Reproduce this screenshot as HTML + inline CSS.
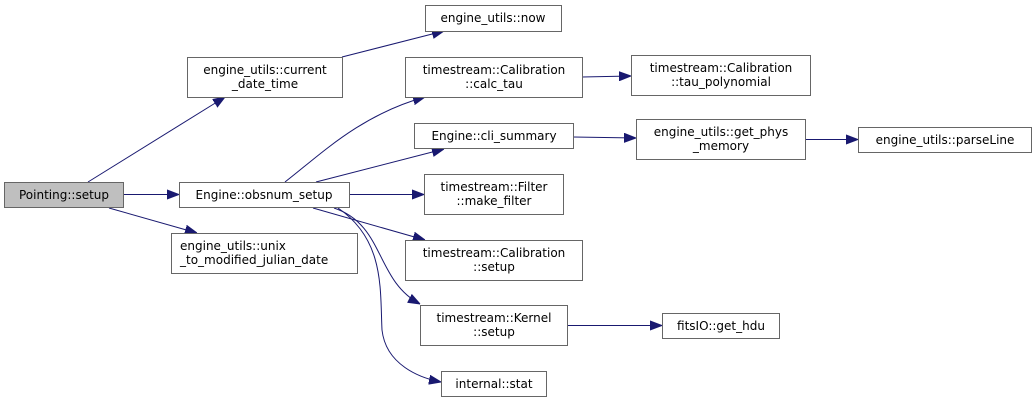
<!DOCTYPE html>
<html><head><meta charset="utf-8"><style>
html,body{margin:0;padding:0;background:#fff;}
svg{display:block;}
text{font-family:"DejaVu Sans","Liberation Sans",sans-serif;font-size:12px;fill:#000;text-anchor:middle;}
rect{fill:#fff;stroke:#666;stroke-width:1;}
path{fill:none;stroke:#191970;stroke-width:1;}
</style></head><body>
<svg width="1033" height="403" viewBox="0 0 1033 403" xmlns="http://www.w3.org/2000/svg">
<defs><marker id="a" markerWidth="12" markerHeight="10" refX="12" refY="5" orient="auto" markerUnits="userSpaceOnUse"><polygon points="0,0.5 12,5 0,9.5" fill="#191970" stroke="#191970"/></marker></defs>
<g marker-end="url(#a)">
<path d="M88,182 L225,97"/>
<path d="M124,194.5 L179,194.5"/>
<path d="M109,208 L197,233"/>
<path d="M342,57 L444,31"/>
<path d="M285,182 C320,155 360,115 425,97"/>
<path d="M316,182 L444,149"/>
<path d="M349,194.5 L424,194.5"/>
<path d="M313,208 L425,240"/>
<path d="M334,208 C385,225 375,280 420,304"/>
<path d="M338,208 C385,240 380,290 382,330 C386,365 420,378 441,382"/>
<path d="M582,77 L631,76"/>
<path d="M573,137 L636,138"/>
<path d="M805,139.5 L858,139.5"/>
<path d="M567,325.5 L662,325.5"/>
</g>
<rect x="4.5" y="182.5" width="119" height="25" style="fill:#bfbfbf"/><text x="64" y="199">Pointing::setup</text>
<rect x="187.5" y="57.5" width="155" height="40"/><text x="265" y="74">engine_utils::current</text><text x="265" y="88">_date_time</text>
<rect x="425.5" y="5.5" width="136" height="26"/><text x="493" y="22">engine_utils::now</text>
<rect x="171.5" y="233.5" width="186" height="40"/><text x="180" y="250" style="text-anchor:start">engine_utils::unix</text><text x="180" y="264" style="text-anchor:start">_to_modified_julian_date</text>
<rect x="179.5" y="182.5" width="170" height="25"/><text x="264" y="199">Engine::obsnum_setup</text>
<rect x="405.5" y="57.5" width="177" height="40"/><text x="494" y="74">timestream::Calibration</text><text x="494" y="88">::calc_tau</text>
<rect x="414.5" y="123.5" width="159" height="25"/><text x="494" y="140">Engine::cli_summary</text>
<rect x="424.5" y="174.5" width="139" height="40"/><text x="494" y="191">timestream::Filter</text><text x="494" y="205">::make_filter</text>
<rect x="405.5" y="240.5" width="177" height="40"/><text x="494" y="257">timestream::Calibration</text><text x="494" y="271">::setup</text>
<rect x="420.5" y="305.5" width="147" height="40"/><text x="494" y="322">timestream::Kernel</text><text x="494" y="336">::setup</text>
<rect x="441.5" y="371.5" width="105" height="25"/><text x="494" y="388">internal::stat</text>
<rect x="631.5" y="55.5" width="179" height="40"/><text x="721" y="72">timestream::Calibration</text><text x="721" y="86">::tau_polynomial</text>
<rect x="636.5" y="119.5" width="169" height="40"/><text x="721" y="136">engine_utils::get_phys</text><text x="721" y="150">_memory</text>
<rect x="858.5" y="127.5" width="173" height="25"/><text x="945" y="144">engine_utils::parseLine</text>
<rect x="662.5" y="313.5" width="117" height="25"/><text x="721" y="330">fitsIO::get_hdu</text>
</svg>
</body></html>
